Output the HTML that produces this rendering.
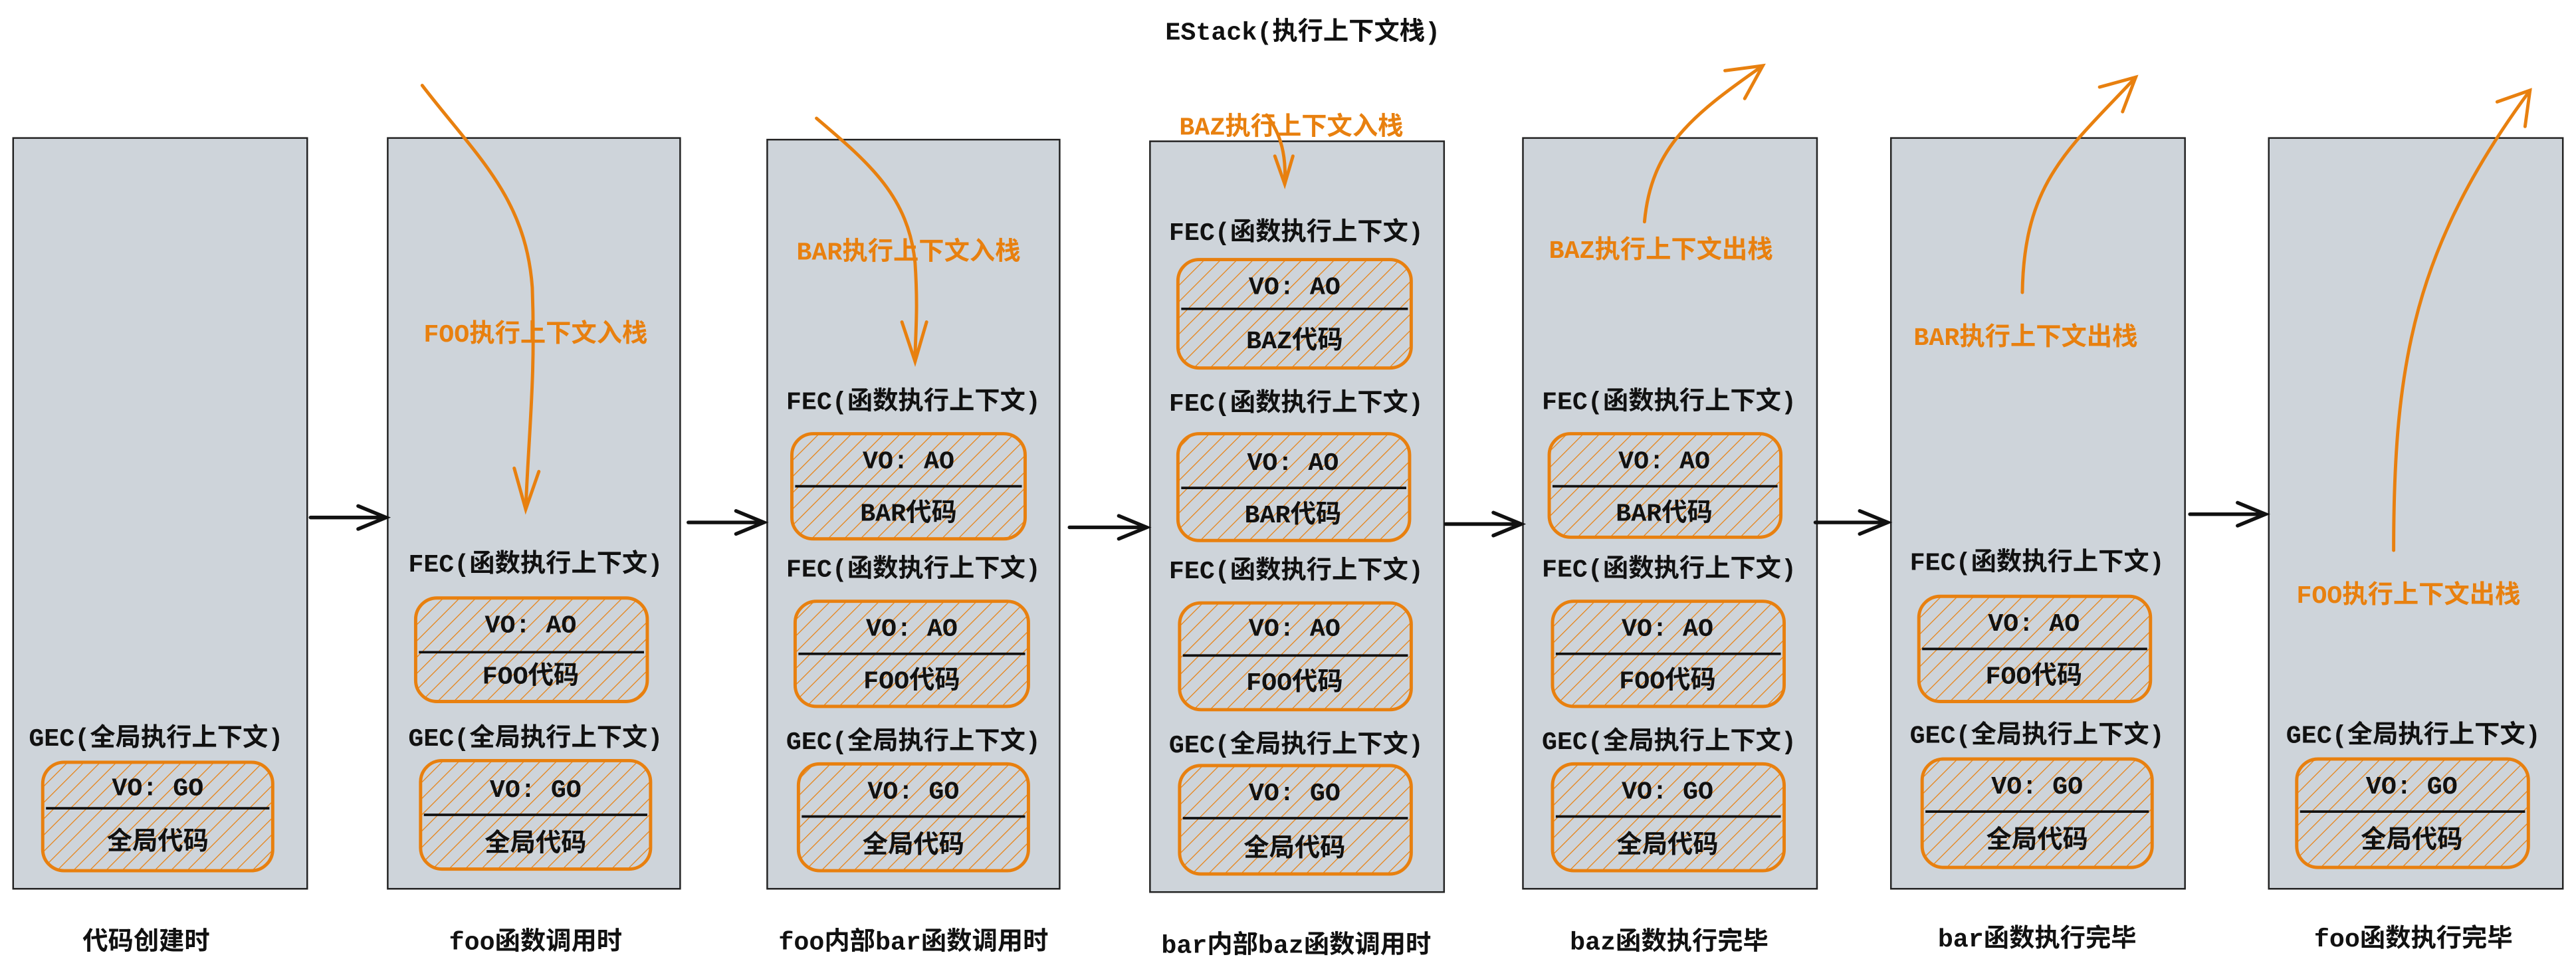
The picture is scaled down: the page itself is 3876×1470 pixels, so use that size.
<!DOCTYPE html>
<html><head><meta charset="utf-8"><style>
html,body{margin:0;padding:0;background:#fff;}
svg{display:block;}
text{font-family:"Liberation Mono","Noto Sans CJK SC",monospace;font-weight:bold;}
</style></head><body>
<svg width="3876" height="1470" viewBox="0 0 1568 594.7" preserveAspectRatio="none" xmlns="http://www.w3.org/2000/svg">
<defs>
<pattern id="h" patternUnits="userSpaceOnUse" width="7" height="7" patternTransform="rotate(45)">
<rect width="7" height="7" fill="#ced4da"/>
<line x1="0" y1="0" x2="0" y2="7" stroke="#e8800f" stroke-width="1"/>
</pattern>
</defs>
<rect width="1568" height="594.7" fill="#fff"/>
<text x="793" y="24" font-size="15.5" text-anchor="middle" fill="#111">EStack(执行上下文栈)</text>

<g fill="#ced4da" stroke="#222" stroke-width="1">
<rect x="8" y="84" width="179" height="457"/>
<rect x="236" y="84" width="178" height="457"/>
<rect x="467" y="85" width="178" height="456"/>
<rect x="700" y="86" width="179" height="457"/>
<rect x="927" y="84" width="179" height="457"/>
<rect x="1151" y="84" width="179" height="457"/>
<rect x="1381" y="84" width="179" height="457"/>
</g>

<g font-size="15.5" fill="#111" text-anchor="middle">
<text x="95" y="454">GEC(全局执行上下文)</text>
<text x="326" y="348">FEC(函数执行上下文)</text>
<text x="326" y="454">GEC(全局执行上下文)</text>
<text x="556" y="249">FEC(函数执行上下文)</text>
<text x="556" y="351">FEC(函数执行上下文)</text>
<text x="556" y="456">GEC(全局执行上下文)</text>
<text x="789" y="146">FEC(函数执行上下文)</text>
<text x="789" y="250">FEC(函数执行上下文)</text>
<text x="789" y="352">FEC(函数执行上下文)</text>
<text x="789" y="458">GEC(全局执行上下文)</text>
<text x="1016" y="249">FEC(函数执行上下文)</text>
<text x="1016" y="351">FEC(函数执行上下文)</text>
<text x="1016" y="456">GEC(全局执行上下文)</text>
<text x="1240" y="347">FEC(函数执行上下文)</text>
<text x="1240" y="452">GEC(全局执行上下文)</text>
<text x="1469" y="452">GEC(全局执行上下文)</text>
<text x="89" y="578">代码创建时</text>
<text x="326" y="578">foo函数调用时</text>
<text x="556" y="578">foo内部bar函数调用时</text>
<text x="789" y="580">bar内部baz函数调用时</text>
<text x="1016" y="578">baz函数执行完毕</text>
<text x="1240" y="576">bar函数执行完毕</text>
<text x="1469" y="576">foo函数执行完毕</text>
</g>

<g font-size="15.5" fill="#111" text-anchor="middle">
<g><rect x="26" y="464" width="140" height="66" rx="13" fill="url(#h)" stroke="#e8800f" stroke-width="2"/><line x1="28" y1="492" x2="164" y2="492" stroke="#111" stroke-width="1.5"/><text x="96" y="484">VO: GO</text><text x="96" y="517">全局代码</text></g>

<g><rect x="253" y="364" width="141" height="63" rx="13" fill="url(#h)" stroke="#e8800f" stroke-width="2"/><line x1="255" y1="397" x2="392" y2="397" stroke="#111" stroke-width="1.5"/><text x="323" y="385">VO: AO</text><text x="323" y="416">FOO代码</text></g>
<g><rect x="256" y="463" width="140" height="66" rx="13" fill="url(#h)" stroke="#e8800f" stroke-width="2"/><line x1="258" y1="496" x2="394" y2="496" stroke="#111" stroke-width="1.5"/><text x="326" y="485">VO: GO</text><text x="326" y="518">全局代码</text></g>

<g><rect x="482" y="264" width="142" height="64" rx="13" fill="url(#h)" stroke="#e8800f" stroke-width="2"/><line x1="484" y1="296" x2="622" y2="296" stroke="#111" stroke-width="1.5"/><text x="553" y="285">VO: AO</text><text x="553" y="317">BAR代码</text></g>
<g><rect x="484" y="366" width="142" height="64" rx="13" fill="url(#h)" stroke="#e8800f" stroke-width="2"/><line x1="486" y1="398" x2="624" y2="398" stroke="#111" stroke-width="1.5"/><text x="555" y="387">VO: AO</text><text x="555" y="419">FOO代码</text></g>
<g><rect x="486" y="465" width="140" height="65" rx="13" fill="url(#h)" stroke="#e8800f" stroke-width="2"/><line x1="488" y1="497" x2="624" y2="497" stroke="#111" stroke-width="1.5"/><text x="556" y="486">VO: GO</text><text x="556" y="519">全局代码</text></g>

<g><rect x="717" y="158" width="142" height="66" rx="13" fill="url(#h)" stroke="#e8800f" stroke-width="2"/><line x1="719" y1="188" x2="857" y2="188" stroke="#111" stroke-width="1.5"/><text x="788" y="179">VO: AO</text><text x="788" y="212">BAZ代码</text></g>
<g><rect x="717" y="264" width="141" height="65" rx="13" fill="url(#h)" stroke="#e8800f" stroke-width="2"/><line x1="719" y1="297" x2="856" y2="297" stroke="#111" stroke-width="1.5"/><text x="787" y="286">VO: AO</text><text x="787" y="318">BAR代码</text></g>
<g><rect x="718" y="367" width="141" height="65" rx="13" fill="url(#h)" stroke="#e8800f" stroke-width="2"/><line x1="720" y1="399" x2="857" y2="399" stroke="#111" stroke-width="1.5"/><text x="788" y="387">VO: AO</text><text x="788" y="420">FOO代码</text></g>
<g><rect x="718" y="466" width="141" height="66" rx="13" fill="url(#h)" stroke="#e8800f" stroke-width="2"/><line x1="720" y1="498" x2="857" y2="498" stroke="#111" stroke-width="1.5"/><text x="788" y="487">VO: GO</text><text x="788" y="521">全局代码</text></g>

<g><rect x="943" y="264" width="141" height="63" rx="13" fill="url(#h)" stroke="#e8800f" stroke-width="2"/><line x1="945" y1="296" x2="1082" y2="296" stroke="#111" stroke-width="1.5"/><text x="1013" y="285">VO: AO</text><text x="1013" y="317">BAR代码</text></g>
<g><rect x="945" y="366" width="141" height="64" rx="13" fill="url(#h)" stroke="#e8800f" stroke-width="2"/><line x1="947" y1="398" x2="1084" y2="398" stroke="#111" stroke-width="1.5"/><text x="1015" y="387">VO: AO</text><text x="1015" y="419">FOO代码</text></g>
<g><rect x="945" y="465" width="141" height="65" rx="13" fill="url(#h)" stroke="#e8800f" stroke-width="2"/><line x1="947" y1="497" x2="1084" y2="497" stroke="#111" stroke-width="1.5"/><text x="1015" y="486">VO: GO</text><text x="1015" y="519">全局代码</text></g>

<g><rect x="1168" y="363" width="141" height="64" rx="13" fill="url(#h)" stroke="#e8800f" stroke-width="2"/><line x1="1170" y1="395" x2="1307" y2="395" stroke="#111" stroke-width="1.5"/><text x="1238" y="384">VO: AO</text><text x="1238" y="416">FOO代码</text></g>
<g><rect x="1170" y="462" width="140" height="66" rx="13" fill="url(#h)" stroke="#e8800f" stroke-width="2"/><line x1="1172" y1="494" x2="1308" y2="494" stroke="#111" stroke-width="1.5"/><text x="1240" y="483">VO: GO</text><text x="1240" y="516">全局代码</text></g>

<g><rect x="1398" y="462" width="141" height="66" rx="13" fill="url(#h)" stroke="#e8800f" stroke-width="2"/><line x1="1400" y1="494" x2="1537" y2="494" stroke="#111" stroke-width="1.5"/><text x="1468" y="483">VO: GO</text><text x="1468" y="516">全局代码</text></g>
</g>

<g stroke="#111" stroke-width="2.2" fill="none" stroke-linecap="round">
<path d="M189 315 L235 315 M218 308 L235 315 L218 322"/>
<path d="M419 318 L465 318 M448 311 L465 318 L448 325"/>
<path d="M651 321 L698 321 M681 314 L698 321 L681 328"/>
<path d="M880 319 L926 319 M909 312 L926 319 L909 326"/>
<path d="M1105 318 L1149 318 M1132 311 L1149 318 L1132 325"/>
<path d="M1333 313 L1379 313 M1362 306 L1379 313 L1362 320"/>
</g>

<g stroke="#e8800f" stroke-width="2" fill="none" stroke-linecap="round">
<path d="M257 52 C290 95 320 120 324 175 C326 230 322 260 320 310"/>
<path d="M313 285 L320 310 L328 287"/>
<path d="M497 72 C530 100 553 120 557 160 C559 190 557 205 557 220"/>
<path d="M549 196 L557 220 L564 196"/>
<path d="M771 70 C780 82 783 95 782 112"/>
<path d="M776 95 L782 112 L787 95"/>
<path d="M1001 135 C1005 90 1030 70 1073 40"/>
<path d="M1050 43 L1073 40 L1062 60"/>
<path d="M1231 178 C1232 110 1260 90 1300 47"/>
<path d="M1278 53 L1300 47 L1292 68"/>
<path d="M1457 335 C1457 220 1470 150 1540 55"/>
<path d="M1520 62 L1540 55 L1537 77"/>
</g>
<g font-size="15.5" fill="#e8800f" text-anchor="middle" font-weight="normal">
<text x="326" y="208">FOO执行上下文入栈</text>
<text x="553" y="158">BAR执行上下文入栈</text>
<text x="786" y="82">BAZ执行上下文入栈</text>
<text x="1011" y="157">BAZ执行上下文出栈</text>
<text x="1233" y="210">BAR执行上下文出栈</text>
<text x="1466" y="367">FOO执行上下文出栈</text>
</g>
</svg>
</body></html>
